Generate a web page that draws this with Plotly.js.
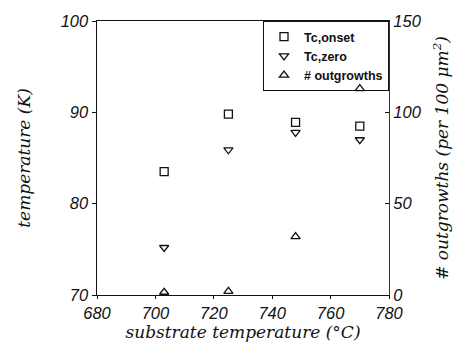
<!DOCTYPE html>
<html>
<head>
<meta charset="utf-8">
<script src="https://cdn.plot.ly/plotly-3.0.1.min.js"></script>
<style>html,body{margin:0;padding:0;background:#fff;}#chart{width:464px;height:342px;}</style>
</head>
<body>
<div id="chart"></div>
<script>
const substrateTemp = [703, 725, 748, 770];
const tcOnset = [83.5, 89.8, 88.9, 88.5];
const tcZero = [75.2, 85.9, 87.8, 87.0];
const outgrowths = [1.5, 2, 32, 113];
const xTicks = [680, 700, 720, 740, 760, 780];
const yTicks = [70, 80, 90, 100];
const y2Ticks = [0, 50, 100, 150];

const tickFont = {family: 'Liberation Sans, Arial, sans-serif', size: 16.5, color: '#111', style: 'italic'};
const titleFont = {family: 'DejaVu Serif, serif', size: 17, color: '#111', style: 'italic'};
const mk = (sym, size) => ({symbol: sym, size: size, color: '#111', line: {color: '#111', width: 1.3}});

const traces = [
  {x: substrateTemp, y: tcOnset, name: 'Tc,onset', type: 'scatter', mode: 'markers', marker: mk('square-open', 8)},
  {x: substrateTemp, y: tcZero, name: 'Tc,zero', type: 'scatter', mode: 'markers', marker: mk('triangle-down-open', 8)},
  {x: substrateTemp, y: outgrowths, name: '# outgrowths', type: 'scatter', mode: 'markers', yaxis: 'y2', marker: mk('triangle-up-open', 8)}
];

const layout = {
  width: 464, height: 342,
  margin: {l: 97, r: 75, t: 21, b: 47},
  paper_bgcolor: '#fff', plot_bgcolor: '#fff',
  showlegend: true,
  legend: {x: 1, xanchor: 'right', y: 1, yanchor: 'top', bordercolor: '#111', borderwidth: 1,
    bgcolor: 'rgba(255,255,255,0)', font: {family: 'Liberation Sans, Arial, sans-serif', size: 12.5, color: '#111', weight: 'bold'},
    itemwidth: 30, tracegroupgap: 0},
  xaxis: {range: [680, 780], tickvals: xTicks, ticktext: xTicks.map(String), showgrid: false, zeroline: false,
    showline: true, linecolor: '#111', linewidth: 1, mirror: true, ticks: 'outside', ticklen: 3, tickcolor: '#111',
    tickfont: tickFont, title: {text: 'substrate temperature (°C)', font: titleFont, standoff: 0}},
  yaxis: {range: [70, 100], tickvals: yTicks, ticktext: yTicks.map(String), showgrid: false, zeroline: false,
    showline: true, linecolor: '#111', linewidth: 1.5, ticks: 'outside', ticklen: 4, tickcolor: '#111',
    tickfont: tickFont, title: {text: 'temperature (K)', font: titleFont, standoff: 25}},
  yaxis2: {range: [0, 150], overlaying: 'y', side: 'right', tickvals: y2Ticks, ticktext: y2Ticks.map(String),
    showgrid: false, zeroline: false, showline: true, linecolor: '#333', linewidth: 1, ticks: 'inside', ticklen: 4, tickcolor: '#111',
    tickfont: tickFont, title: {text: '# outgrowths (per 100 μm<sup>2</sup>)', font: titleFont, standoff: 15}}
};

Plotly.newPlot('chart', traces, layout, {displayModeBar: false, staticPlot: true});
</script>
</body>
</html>
